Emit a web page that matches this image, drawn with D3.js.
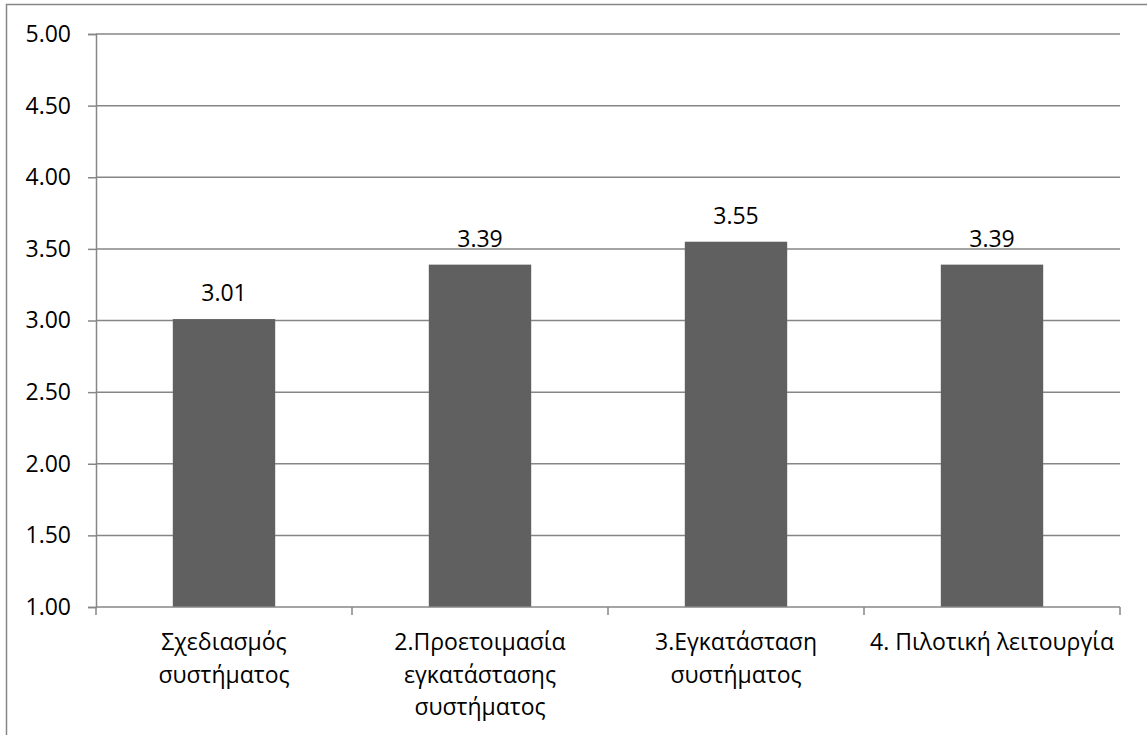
<!DOCTYPE html>
<html>
<head>
<meta charset="utf-8">
<script src="https://cdn.jsdelivr.net/npm/d3@7"></script>
<style>
  html, body { margin: 0; padding: 0; background: #fff; }
  svg { display: block; }
  text { font-family: "Open Sans", "Noto Sans", sans-serif; fill: #000; }
</style>
</head>
<body>
<div id="chart"></div>
<script>
// Mean score per implementation phase
const categories = [
  ["Σχεδιασμός", "συστήματος"],
  ["2.Προετοιμασία", "εγκατάστασης", "συστήματος"],
  ["3.Εγκατάσταση", "συστήματος"],
  ["4. Πιλοτική λειτουργία"]
];
const values = [3.01, 3.39, 3.55, 3.39];
const yTicks = [1.00, 1.50, 2.00, 2.50, 3.00, 3.50, 4.00, 4.50, 5.00];

const W = 1147, H = 735;
const plotLeft = 96, plotRight = 1120, plotTop = 34, plotBottom = 607;
const fontSize = 23;
const gridColor = "#868686";
const barColor = "#606060";

const svg = d3.select("#chart").append("svg")
  .attr("width", W).attr("height", H);

// chart frame
svg.append("rect")
  .attr("x", 6.5).attr("y", 4.5)
  .attr("width", W + 20).attr("height", H + 20)
  .attr("fill", "none").attr("stroke", gridColor).attr("stroke-width", 1.5);

const keys = categories.map((c, i) => String(i));
const x = d3.scaleBand().domain(keys).range([plotLeft, plotRight])
  .paddingInner(0.6).paddingOuter(0.3);
const y = d3.scaleLinear().domain([1, 5]).range([plotBottom, plotTop]);

// horizontal gridlines + y axis
const yAxis = d3.axisLeft(y).tickValues(yTicks)
  .tickFormat(d3.format(".2f")).tickSize(8).tickPadding(17);
const gy = svg.append("g").attr("transform", `translate(${plotLeft},0)`).call(yAxis);
gy.select(".domain").attr("stroke", gridColor).attr("stroke-width", 1.5);
gy.selectAll(".tick line").attr("stroke", gridColor).attr("stroke-width", 1.5);
gy.selectAll(".tick text").style("font-size", fontSize + "px").attr("fill", "#000")
  .style("font-family", '"Open Sans", "Noto Sans", sans-serif');

svg.append("g").selectAll("line")
  .data(yTicks.filter(t => t > 1))
  .join("line")
  .attr("x1", plotLeft).attr("x2", plotRight)
  .attr("y1", d => y(d)).attr("y2", d => y(d))
  .attr("stroke", gridColor).attr("stroke-width", 1.5);

// bars
svg.append("g").selectAll("rect")
  .data(values)
  .join("rect")
  .attr("x", (d, i) => x(keys[i]))
  .attr("width", x.bandwidth())
  .attr("y", d => y(d))
  .attr("height", d => y(1) - y(d))
  .attr("fill", barColor);

// category axis along the bottom
svg.append("line")
  .attr("x1", plotLeft).attr("x2", plotRight)
  .attr("y1", plotBottom).attr("y2", plotBottom)
  .attr("stroke", gridColor).attr("stroke-width", 1.5);
const step = x.step();
svg.append("g").selectAll("line")
  .data(d3.range(keys.length + 1))
  .join("line")
  .attr("x1", i => plotLeft + i * step).attr("x2", i => plotLeft + i * step)
  .attr("y1", plotBottom).attr("y2", plotBottom + 8)
  .attr("stroke", gridColor).attr("stroke-width", 1.5);

// category labels
const lab = svg.append("g").selectAll("text")
  .data(categories)
  .join("text")
  .attr("text-anchor", "middle")
  .style("font-size", fontSize + "px")
  .attr("transform", (d, i) => `translate(${x(keys[i]) + x.bandwidth() / 2},650)`);
lab.selectAll("tspan")
  .data(d => d)
  .join("tspan")
  .attr("x", 0)
  .attr("y", (d, j) => j * 32.5)
  .text(d => d);

// value labels
svg.append("g").selectAll("text")
  .data(values)
  .join("text")
  .attr("text-anchor", "middle")
  .style("font-size", fontSize + "px")
  .attr("x", (d, i) => x(keys[i]) + x.bandwidth() / 2)
  .attr("y", d => y(d) - 18)
  .text(d => d3.format(".2f")(d));
</script>
</body>
</html>
